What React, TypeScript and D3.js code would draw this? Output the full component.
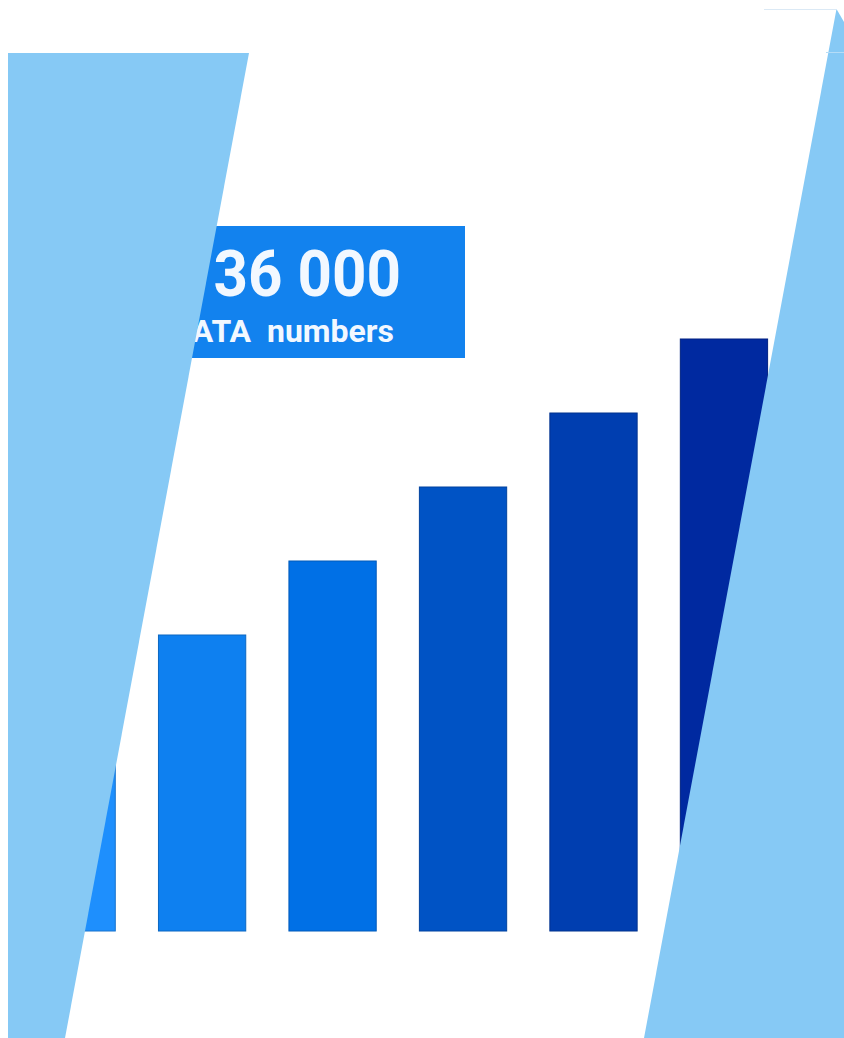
import React from 'react';
import * as d3 from 'd3';

// bars, left to right
const categories = ['P1', 'P2', 'P3', 'P4', 'P5', 'P6'];
const values = [3, 4, 5, 6, 7, 8];
const barColors = ['#1e8ffd', '#0e80f0', '#0070e6', '#0053c5', '#003eb0', '#0029a0'];

const headline = '136 000';
const subline = 'DATA  numbers';

const W = 844;
const H = 1038;

const App: React.FC = () => {
  const x = d3.scaleBand<string>()
    .domain(categories)
    .range([28, 767.6])
    .paddingInner(0.331)
    .paddingOuter(0);

  const y = d3.scaleLinear().domain([0, 8]).range([931, 339]);

  const edge = '#86c9f5';

  return (
    <svg width={W} height={H} style={{ position: 'absolute', left: 0, top: 0, background: '#fff' }}>
      {/* bars */}
      <g className="bars">
        {values.map((v, i) => (
          <rect
            key={categories[i]}
            x={x(categories[i])}
            y={y(v)}
            width={x.bandwidth()}
            height={y(0) - y(v)}
            fill={barColors[i]}
            stroke={d3.color(barColors[i])!.darker(0.6).toString()}
            strokeWidth={1}
          />
        ))}
      </g>

      {/* headline box */}
      <rect x={140} y={226} width={325} height={132} fill="#1282ee" />
      {/* the big number is set a bit condensed */}
      <g transform="translate(401,296) scale(0.94,1)">
        <text
          x={0}
          y={0}
          textAnchor="end"
          fill="#f2f8ff"
          fontFamily="Roboto"
          fontWeight="bold"
          fontSize={64}
        >
          {headline}
        </text>
      </g>
      <text
        x={394}
        y={342}
        textAnchor="end"
        fill="#f2f8ff"
        fontFamily="Roboto"
        fontWeight="bold"
        fontSize={32}
        style={{ whiteSpace: 'pre' }}
      >
        {subline}
      </text>

      {/* slanted light blue panels on top */}
      <polygon points="8,53 249,53 65,1038 8,1038" fill={edge} />
      <line x1={764} y1={9.5} x2={836} y2={9.5} stroke="#dbe9f5" strokeWidth={1} />
      <polygon points="836.5,9 844,22 844,1038 644,1038" fill={edge} />
      <line x1={826} y1={52.5} x2={844} y2={52.5} stroke="#b5dcf7" strokeWidth={1} />
    </svg>
  );
};

export default App;
